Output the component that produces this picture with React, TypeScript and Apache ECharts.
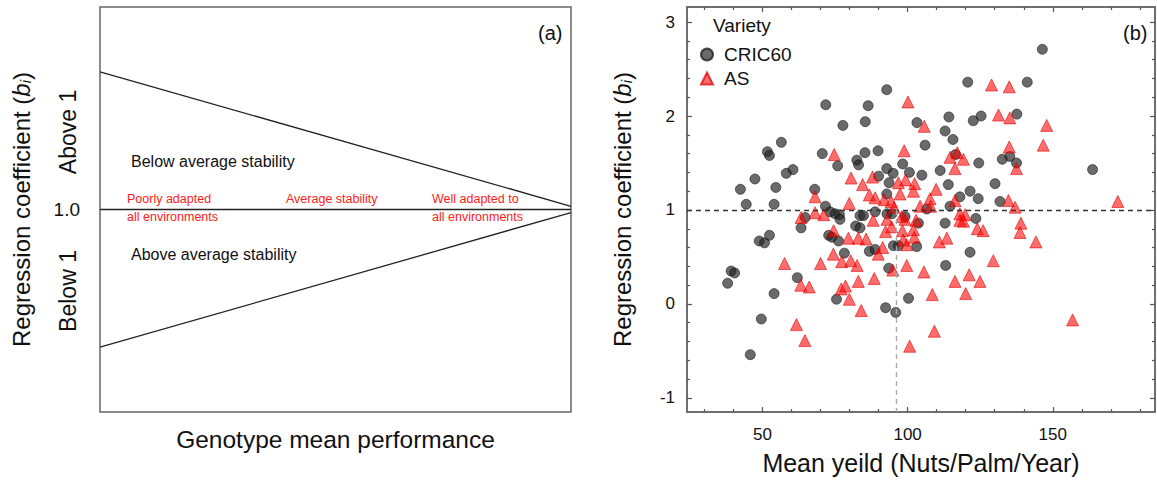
import React, { useEffect, useRef } from "react";
import * as echarts from "echarts";

const FONT = "'Liberation Sans', Arial, Helvetica, sans-serif";

// ---- Panel (a): schematic lines ----
const schematicX = [0, 1];
const upperBoundary = [1.68, 1.016];
const averageLine = [1, 1];
const lowerBoundary = [0.32, 0.985];

// ---- Panel (b): axis ticks ----
const X_MIN = 24;
const X_MAX = 185.2;
const Y_MIN = -1.15;
const Y_MAX = 3.16;
const xMajorTicks = [50, 100, 150];
const xMinorTicks = [30, 40, 60, 70, 80, 90, 110, 120, 130, 140, 160, 170, 180];
const yMajorTicks = [-1, 0, 1, 2, 3];
const yMinorTicks = [-0.8, -0.6, -0.4, -0.2, 0.2, 0.4, 0.6, 0.8, 1.2, 1.4, 1.6, 1.8, 2.2, 2.4, 2.6, 2.8];
const referenceB = 1;
const grandMeanYield = 96;

// ---- Panel (b): data (mean yield, regression coefficient) ----
const cric60: [number, number][] = [
  [92.8, 2.28], [71.8, 2.12], [86.4, 2.11], [77.7, 1.9], [85.4, 1.94], [103.2, 1.93], [56.5, 1.72],
  [51.7, 1.62], [52.4, 1.58], [70.6, 1.6], [85.3, 1.61], [89.8, 1.63], [75.9, 1.47], [82.5, 1.53],
  [83.1, 1.48], [92.8, 1.44], [98.3, 1.49], [60.5, 1.43], [58.2, 1.39], [47.4, 1.33], [42.4, 1.22],
  [54.6, 1.24], [44.4, 1.06], [54.0, 1.06], [68.0, 1.22], [90.0, 1.36], [95.0, 1.39], [100.6, 1.4],
  [93.6, 1.29], [92.8, 1.17], [71.7, 1.04], [146.4, 2.71], [120.7, 2.36], [141.2, 2.36], [114.2, 1.99],
  [122.6, 1.95], [125.3, 2.0], [137.6, 2.02], [112.9, 1.84], [106.0, 1.69], [115.6, 1.75], [116.5, 1.59],
  [104.9, 1.37], [111.2, 1.42], [124.5, 1.5], [132.6, 1.54], [135.2, 1.57], [137.5, 1.5], [163.7, 1.43],
  [114.0, 1.27], [130.1, 1.28], [121.5, 1.2], [118.0, 1.14], [124.3, 1.12], [131.8, 1.09], [114.6, 1.04],
  [106.6, 1.01], [73.3, 0.98], [75.0, 0.96], [76.5, 0.95], [76.7, 0.9], [83.6, 0.94], [84.8, 0.94],
  [88.8, 0.98], [92.9, 0.96], [94.6, 0.96], [64.7, 0.92], [63.3, 0.81], [82.1, 0.83], [83.6, 0.81],
  [72.8, 0.73], [73.9, 0.71], [76.2, 0.67], [48.9, 0.67], [50.7, 0.65], [52.4, 0.73], [78.2, 0.54],
  [86.8, 0.56], [88.8, 0.58], [95.1, 0.62], [96.8, 0.62], [103.1, 0.61], [39.2, 0.35], [40.4, 0.33],
  [38.0, 0.22], [62.0, 0.28], [54.0, 0.11], [93.5, 0.38], [75.5, 0.05], [92.4, -0.04], [95.9, -0.09],
  [100.3, 0.06], [49.6, -0.16], [45.8, -0.54], [99.1, 0.93], [103.7, 0.86], [112.9, 0.86], [123.5, 0.91],
  [121.5, 0.55], [113.1, 0.41],
];

const asVariety: [number, number][] = [
  [100.1, 2.15], [74.7, 1.59], [98.8, 1.63], [80.5, 1.34], [87.9, 1.35], [84.5, 1.27], [96.8, 1.29],
  [99.3, 1.32], [102.4, 1.28], [68.1, 1.14], [86.8, 1.16], [88.8, 1.13], [91.9, 1.11], [94.3, 1.09],
  [97.4, 1.17], [102.0, 1.2], [79.9, 1.07], [105.7, 1.89], [109.8, 1.22], [107.7, 1.12], [104.3, 1.04],
  [128.9, 2.33], [135.0, 2.31], [131.3, 2.01], [135.2, 1.98], [147.9, 1.9], [146.7, 1.69], [135.0, 1.67],
  [117.1, 1.61], [114.6, 1.56], [119.2, 1.54], [116.3, 1.44], [137.5, 1.44], [116.3, 1.1], [134.7, 1.1],
  [137.0, 1.03], [172.4, 1.09], [63.3, 0.92], [68.1, 0.97], [71.1, 0.95], [74.5, 0.78], [79.6, 0.7],
  [83.0, 0.7], [85.7, 0.69], [88.1, 0.89], [92.4, 0.77], [92.9, 0.9], [98.0, 0.93], [99.1, 0.9],
  [98.2, 0.78], [102.0, 0.79], [98.5, 0.68], [99.7, 0.63], [91.4, 0.6], [89.9, 0.53], [74.4, 0.53],
  [77.3, 0.45], [80.4, 0.46], [82.6, 0.41], [70.0, 0.43], [57.6, 0.43], [99.7, 0.41], [94.9, 0.36],
  [88.5, 0.27], [83.0, 0.24], [63.2, 0.2], [66.1, 0.18], [78.6, 0.19], [77.1, 0.16], [79.9, 0.05],
  [84.0, -0.07], [61.7, -0.22], [64.6, -0.39], [100.7, -0.45], [107.9, 1.04], [118.0, 0.96], [119.8, 0.95],
  [118.0, 0.89], [119.2, 0.88], [102.9, 0.89], [102.3, 0.71], [110.9, 0.66], [113.5, 0.7], [124.0, 0.8],
  [126.0, 0.78], [139.0, 0.86], [138.7, 0.76], [144.2, 0.66], [129.5, 0.46], [105.6, 0.34], [121.2, 0.31],
  [116.3, 0.24], [124.9, 0.24], [108.5, 0.1], [120.0, 0.11], [156.8, -0.17], [109.2, -0.29], [94.5, 0.82],
  [95.3, 1.03],
];

const TICK_COLOR = "#555";
const BORDER_COLOR = "#666";
const TEXT_COLOR = "#111";

const regressionName = "Regression coefficient ({b|b}{i|i})";
const regressionNameStyle = {
  fontSize: 24,
  color: TEXT_COLOR,
  fontFamily: FONT,
  rich: {
    b: { fontSize: 24, fontStyle: "italic", color: TEXT_COLOR, fontFamily: FONT },
    i: { fontSize: 15, fontStyle: "italic", color: TEXT_COLOR, fontFamily: FONT, verticalAlign: "bottom", padding: [8, 0, 0, 0] },
  },
};

function hiddenAxis(extra: any) {
  return {
    type: "value",
    axisLine: { show: false, onZero: false },
    splitLine: { show: false },
    axisLabel: { show: false },
    axisTick: { show: false },
    ...extra,
  };
}

function tickAxis(
  gridIndex: number, min: number, max: number, position: string, values: number[], length: number,
  showLine: boolean, extra: any = {}
) {
  return {
    type: "value",
    gridIndex,
    min,
    max,
    position,
    axisLine: { show: showLine, onZero: false, lineStyle: { color: BORDER_COLOR, width: 1.5 } },
    splitLine: { show: false },
    axisTick: { show: true, inside: true, length, customValues: values, lineStyle: { color: TICK_COLOR, width: 1.2 } },
    axisLabel: { show: false },
    ...extra,
  };
}

export default function App() {
  const ref = useRef<HTMLDivElement>(null);

  useEffect(() => {
    if (!ref.current) return;
    const chart = echarts.init(ref.current, null, { renderer: "svg" });

    const lineData = (ys: number[]) => schematicX.map((x, i) => [x, ys[i]]);
    const red = "#ff1a1a";

    const option: any = {
      animation: false,
      backgroundColor: "#fff",
      textStyle: { fontFamily: FONT },
      grid: [
        { left: 100, top: 7, width: 471, height: 405, show: true, borderColor: BORDER_COLOR, borderWidth: 1.5, backgroundColor: "transparent" },
        { left: 687, top: 7, width: 468, height: 405, show: true, borderColor: BORDER_COLOR, borderWidth: 1.5, backgroundColor: "transparent" },
      ],
      legend: {
        orient: "vertical",
        left: 700,
        top: 45,
        padding: 0,
        itemWidth: 12,
        itemHeight: 12,
        itemGap: 5,
        data: ["CRIC60", "AS"],
        textStyle: { fontSize: 19, color: TEXT_COLOR, fontFamily: FONT, padding: [0, 0, 0, 6] },
      },
      xAxis: [
        hiddenAxis({
          gridIndex: 0,
          min: 0,
          max: 1,
          name: "Genotype mean performance",
          nameLocation: "middle",
          nameGap: 15,
          nameTextStyle: { fontSize: 24.5, color: TEXT_COLOR, fontFamily: FONT },
        }),
        tickAxis(1, X_MIN, X_MAX, "bottom", xMajorTicks, 5, true, {
          axisLabel: { show: true, customValues: xMajorTicks, margin: 14, fontSize: 17, color: TEXT_COLOR, fontFamily: FONT },
          name: "Mean yeild (Nuts/Palm/Year)",
          nameLocation: "middle",
          nameGap: 38,
          nameTextStyle: { fontSize: 25, color: TEXT_COLOR, fontFamily: FONT },
        }),
        tickAxis(1, X_MIN, X_MAX, "bottom", xMinorTicks, 3, false),
        tickAxis(1, X_MIN, X_MAX, "top", xMajorTicks, 5, true),
        tickAxis(1, X_MIN, X_MAX, "top", xMinorTicks, 3, false),
      ],
      yAxis: [
        hiddenAxis({
          gridIndex: 0,
          min: 0,
          max: 2,
          axisLabel: { show: true, customValues: [1], formatter: () => "1.0", margin: 20, fontSize: 19, color: TEXT_COLOR, fontFamily: FONT },
          name: regressionName,
          nameLocation: "middle",
          nameRotate: 90,
          nameGap: 67,
          nameTextStyle: regressionNameStyle,
        }),
        tickAxis(1, Y_MIN, Y_MAX, "left", yMajorTicks, 5, true, {
          axisLabel: { show: true, customValues: yMajorTicks, margin: 12, fontSize: 17, color: TEXT_COLOR, fontFamily: FONT },
          name: regressionName,
          nameLocation: "middle",
          nameRotate: 90,
          nameGap: 53,
          nameTextStyle: regressionNameStyle,
        }),
        tickAxis(1, Y_MIN, Y_MAX, "left", yMinorTicks, 3, false),
        tickAxis(1, Y_MIN, Y_MAX, "right", yMajorTicks, 5, true),
        tickAxis(1, Y_MIN, Y_MAX, "right", yMinorTicks, 3, false),
      ],
      series: [
        {
          type: "line", xAxisIndex: 0, yAxisIndex: 0, data: lineData(upperBoundary), symbol: "none",
          lineStyle: { color: "#222", width: 1.3 }, silent: true,
        },
        {
          type: "line", xAxisIndex: 0, yAxisIndex: 0, data: lineData(averageLine), symbol: "none",
          lineStyle: { color: "#222", width: 1.3 }, silent: true,
        },
        {
          type: "line", xAxisIndex: 0, yAxisIndex: 0, data: lineData(lowerBoundary), symbol: "none",
          lineStyle: { color: "#222", width: 1.3 }, silent: true,
        },
        {
          name: "CRIC60",
          type: "scatter",
          xAxisIndex: 1,
          yAxisIndex: 1,
          data: cric60,
          symbol: "circle",
          symbolSize: 10,
          itemStyle: { color: "rgba(35,35,35,0.85)", borderColor: "rgba(20,20,20,0.9)", borderWidth: 0.8 },
          markLine: {
            silent: true,
            symbol: ["none", "none"],
            label: { show: false },
            data: [
              { yAxis: referenceB, lineStyle: { color: "#333", type: [5, 4], width: 1.4 } },
              [
                { coord: [grandMeanYield, referenceB], lineStyle: { color: "#aaa", type: [5, 4], width: 1.4 } },
                { coord: [grandMeanYield, Y_MIN] },
              ],
            ],
          },
        },
        {
          name: "AS",
          type: "scatter",
          xAxisIndex: 1,
          yAxisIndex: 1,
          data: asVariety,
          symbol: "triangle",
          symbolSize: 12,
          itemStyle: { color: "rgba(255,0,0,0.72)", borderColor: "rgba(220,0,0,0.9)", borderWidth: 0.8 },
        },
      ],
      graphic: [
        { type: "text", x: 538, y: 33, style: { text: "(a)", fontSize: 20, fill: TEXT_COLOR, fontFamily: FONT, verticalAlign: "middle" } },
        { type: "text", x: 1123, y: 33, style: { text: "(b)", fontSize: 20, fill: TEXT_COLOR, fontFamily: FONT, verticalAlign: "middle" } },
        { type: "text", x: 713, y: 25, style: { text: "Variety", fontSize: 19, fill: TEXT_COLOR, fontFamily: FONT, verticalAlign: "middle" } },
        { type: "text", x: 68, y: 132, rotation: Math.PI / 2, style: { text: "Above 1", fontSize: 23, fill: TEXT_COLOR, fontFamily: FONT, align: "center", verticalAlign: "middle" } },
        { type: "text", x: 68, y: 291, rotation: Math.PI / 2, style: { text: "Below 1", fontSize: 23, fill: TEXT_COLOR, fontFamily: FONT, align: "center", verticalAlign: "middle" } },
        { type: "text", x: 131, y: 161, style: { text: "Below average stability", fontSize: 16, fill: TEXT_COLOR, fontFamily: FONT, verticalAlign: "middle" } },
        { type: "text", x: 131, y: 254, style: { text: "Above average stability", fontSize: 16, fill: TEXT_COLOR, fontFamily: FONT, verticalAlign: "middle" } },
        { type: "text", x: 127, y: 199, style: { text: "Poorly adapted", fontSize: 12.5, fill: red, fontFamily: FONT, verticalAlign: "middle" } },
        { type: "text", x: 127, y: 217, style: { text: "all environments", fontSize: 12.5, fill: red, fontFamily: FONT, verticalAlign: "middle" } },
        { type: "text", x: 286, y: 199, style: { text: "Average stability", fontSize: 12.5, fill: red, fontFamily: FONT, verticalAlign: "middle" } },
        { type: "text", x: 432, y: 199, style: { text: "Well adapted to", fontSize: 12.5, fill: red, fontFamily: FONT, verticalAlign: "middle" } },
        { type: "text", x: 432, y: 217, style: { text: "all environments", fontSize: 12.5, fill: red, fontFamily: FONT, verticalAlign: "middle" } },
      ],
    };

    chart.setOption(option);
    return () => chart.dispose();
  }, []);

  return (
    <div
      ref={ref}
      style={{ position: "fixed", left: 0, top: 0, width: 1157, height: 480, background: "#fff" }}
    />
  );
}
